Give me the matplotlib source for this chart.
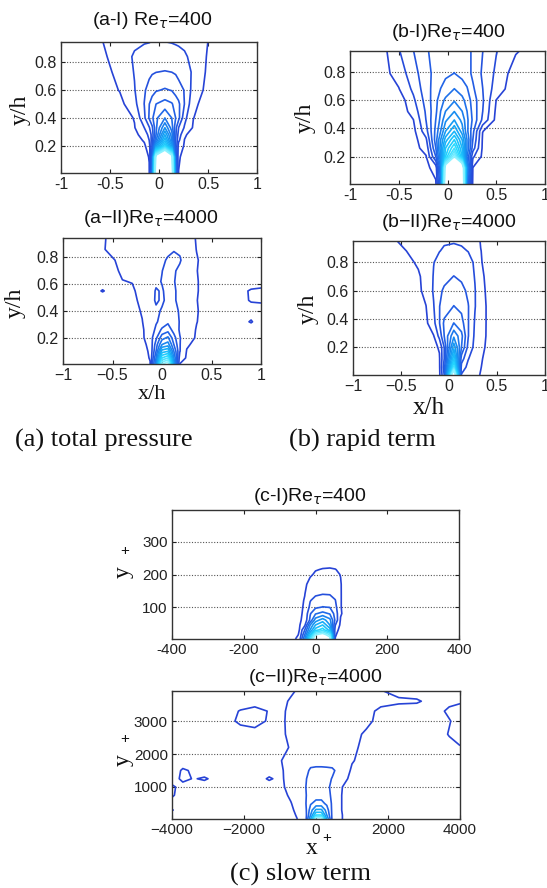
import numpy as np
import matplotlib
matplotlib.use('Agg')
import matplotlib.pyplot as plt
from matplotlib.colors import LinearSegmentedColormap

plt.rcParams['font.family'] = ['Liberation Sans', 'DejaVu Sans']
plt.rcParams['mathtext.fontset'] = 'dejavusans'
SERIF = ['Liberation Serif', 'DejaVu Serif']

# ------------------------------------------------------------------ data
# (a-I) total pressure, Re_tau = 400 : field on a (x/h, y/h) grid
a1_x = [-1.0, -0.6, -0.4, -0.25, -0.15, -0.1, -0.07, -0.03, 0.06, 0.13, 0.17, 0.2, 0.26, 0.35, 0.5, 0.7, 1.0]
a1_y = [0.005, 0.12, 0.2, 0.24, 0.28, 0.33, 0.4, 0.5, 0.6, 0.73, 0.84, 0.945]
a1_z = [
    [0.05, 0.1, 0.2, 0.3, 0.5, 0.9, 6, 24, 30, 24, 6, 0.98, 0.6, 0.4, 0.25, 0.15, 0.1],
    [0.05, 0.12, 0.25, 0.4, 0.65, 1.05, 5, 22, 28, 22, 5, 1.1, 0.75, 0.5, 0.3, 0.18, 0.1],
    [0.05, 0.15, 0.3, 0.5, 0.85, 1.5, 4, 10, 15, 10, 4, 1.6, 0.9, 0.6, 0.35, 0.2, 0.1],
    [0.05, 0.18, 0.35, 0.6, 1.1, 2, 3.5, 7, 12.7, 8, 4, 2.2, 0.98, 0.65, 0.38, 0.22, 0.1],
    [0.05, 0.2, 0.4, 0.75, 1.4, 2.3, 3.4, 6, 11, 7.5, 4.2, 2.6, 1.1, 0.7, 0.4, 0.24, 0.1],
    [0.05, 0.22, 0.45, 0.95, 2.0, 2.9, 3.8, 5.8, 9, 6.5, 4.3, 3.0, 1.9, 0.9, 0.45, 0.25, 0.1],
    [0.05, 0.25, 0.55, 1.05, 2.8, 4.1, 4.8, 5.8, 7, 6, 5, 4.3, 2.3, 1.02, 0.5, 0.28, 0.1],
    [0.05, 0.3, 0.7, 1.7, 3.02, 3.98, 4.5, 5.0, 5.4, 5.1, 4.6, 4.2, 2.98, 1.2, 0.6, 0.3, 0.1],
    [0.05, 0.4, 1.05, 1.95, 2.9, 3.3, 3.6, 3.9, 4.1, 3.95, 3.6, 3.4, 2.95, 1.6, 0.7, 0.35, 0.1],
    [0.05, 0.55, 1.3, 2.05, 2.6, 2.8, 2.9, 2.98, 3.05, 2.99, 2.9, 2.7, 2.3, 1.9, 0.8, 0.4, 0.1],
    [0.05, 0.7, 1.55, 2.1, 2.3, 2.35, 2.4, 2.4, 2.4, 2.35, 2.3, 2.25, 2.1, 1.8, 0.9, 0.45, 0.1],
    [0.05, 0.9, 1.6, 1.85, 1.95, 1.98, 2.02, 2.03, 2.01, 1.97, 1.93, 1.9, 1.85, 1.7, 0.99, 0.5, 0.1],
]
a1_levels = list(range(1, 21))

# (b-I) rapid term, Re_tau = 400
b1_x = [-1.0, -0.7, -0.5, -0.35, -0.22, -0.12, -0.07, -0.02, 0.07, 0.15, 0.2, 0.26, 0.36, 0.5, 0.7, 1.0]
b1_y = [0.005, 0.12, 0.2, 0.26, 0.32, 0.38, 0.46, 0.52, 0.6, 0.68, 0.79, 0.95]
b1_z = [
    [0.1, 0.2, 0.3, 0.4, 0.55, 0.85, 5, 22, 30, 24, 6, 0.8, 0.55, 0.4, 0.2, 0.1],
    [0.1, 0.25, 0.4, 0.55, 0.75, 1.4, 6, 20, 26, 22, 8, 0.98, 0.65, 0.45, 0.25, 0.1],
    [0.1, 0.3, 0.45, 0.65, 0.95, 4, 8, 13, 18, 12, 6, 2.2, 0.8, 0.5, 0.3, 0.1],
    [0.1, 0.3, 0.5, 0.7, 1.3, 5, 8.5, 12, 15, 11, 7, 3.5, 0.85, 0.5, 0.3, 0.1],
    [0.1, 0.3, 0.5, 0.6, 1.8, 5.5, 8, 10.5, 13, 10, 7, 4.0, 0.9, 0.55, 0.3, 0.1],
    [0.1, 0.3, 0.5, 0.7, 2.6, 5.3, 7, 9, 11, 8.5, 6.3, 4.3, 1.02, 0.6, 0.3, 0.1],
    [0.1, 0.25, 0.45, 0.98, 3.02, 5.02, 6.3, 7.8, 9, 7.7, 6.25, 4.8, 2.8, 0.7, 0.3, 0.1],
    [0.1, 0.25, 0.4, 1.38, 3.14, 4.8, 6.02, 7.02, 8.0, 7.02, 6.02, 4.67, 3.02, 0.8, 0.3, 0.1],
    [0.1, 0.3, 0.4, 1.8, 3.38, 4.71, 5.6, 6.2, 6.9, 6.3, 5.6, 4.57, 3.14, 0.98, 0.3, 0.1],
    [0.1, 0.3, 0.95, 2.22, 3.55, 4.5, 5.02, 5.4, 6.02, 5.5, 5.1, 4.17, 3.02, 1.5, 0.4, 0.1],
    [0.1, 0.47, 1.43, 2.58, 3.67, 4.3, 4.55, 4.8, 5.02, 4.7, 4.4, 3.8, 2.85, 1.8, 0.47, 0.1],
    [0.1, 0.4, 1.92, 2.98, 3.93, 4.2, 4.3, 4.4, 4.5, 4.35, 4.2, 3.9, 3.02, 2.05, 1.1, 0.3],
]
b1_levels = list(range(1, 19))

# (a-II) total pressure, Re_tau = 4000
a2_x = [-1.0, -0.8, -0.6, -0.5, -0.4, -0.3, -0.2, -0.12, -0.06, 0.0, 0.06, 0.12, 0.18, 0.25, 0.35, 0.5, 0.75, 0.9, 1.0]
a2_y = [0.005, 0.05, 0.1, 0.15, 0.2, 0.26, 0.32, 0.4, 0.48, 0.55, 0.62, 0.7, 0.78, 0.86, 0.95]
a2_z = [
    [0.3, 0.32, 0.34, 0.36, 0.42, 0.5, 0.65, 0.95, 6, 14, 15, 7, 0.98, 0.85, 0.65, 0.45, 0.35, 0.35, 0.35],
    [0.3, 0.33, 0.35, 0.38, 0.45, 0.55, 0.7, 1.05, 5, 11, 12, 6, 1.5, 0.9, 0.7, 0.45, 0.35, 0.35, 0.35],
    [0.3, 0.33, 0.36, 0.4, 0.48, 0.58, 0.75, 1.1, 4, 8.5, 9, 5, 2.05, 0.95, 0.75, 0.5, 0.35, 0.35, 0.35],
    [0.3, 0.35, 0.38, 0.42, 0.5, 0.6, 0.8, 1.2, 3.5, 6.0, 6.5, 4.0, 2.05, 1.1, 0.8, 0.5, 0.35, 0.35, 0.35],
    [0.3, 0.35, 0.4, 0.45, 0.55, 0.65, 0.85, 1.5, 2.8, 4.6, 5.2, 3.4, 2.05, 1.4, 0.9, 0.5, 0.35, 0.35, 0.35],
    [0.3, 0.35, 0.4, 0.5, 0.6, 0.72, 0.9, 1.4, 2.2, 3.2, 3.6, 2.6, 1.9, 1.4, 0.95, 0.55, 0.35, 0.35, 0.35],
    [0.3, 0.35, 0.45, 0.55, 0.65, 0.78, 0.98, 1.4, 1.9, 2.3, 2.8, 2.4, 1.95, 1.45, 1.02, 0.6, 0.4, 1.1, 0.4],
    [0.3, 0.4, 0.5, 0.6, 0.7, 0.8, 1.05, 1.45, 1.8, 2.1, 2.5, 2.3, 1.9, 1.4, 1.05, 0.6, 0.45, 0.5, 0.4],
    [0.3, 0.4, 0.55, 0.65, 0.75, 0.85, 1.15, 1.5, 2.15, 1.85, 2.25, 2.15, 1.7, 1.3, 1.02, 0.6, 0.5, 1.1, 1.2],
    [0.35, 0.45, 1.05, 0.75, 0.85, 0.92, 1.2, 1.5, 2.1, 1.9, 2.3, 2.2, 1.6, 1.3, 1.05, 0.6, 0.45, 1.15, 1.3],
    [0.3, 0.45, 0.65, 0.8, 0.98, 1.02, 1.3, 1.55, 1.8, 2.05, 2.3, 2.05, 1.7, 1.35, 1.05, 0.6, 0.4, 0.35, 0.35],
    [0.3, 0.45, 0.7, 0.85, 1.1, 1.3, 1.45, 1.6, 1.8, 1.98, 2.3, 2.1, 1.8, 1.4, 1.02, 0.6, 0.4, 0.3, 0.3],
    [0.3, 0.45, 0.75, 0.95, 1.15, 1.3, 1.45, 1.6, 1.8, 1.92, 2.05, 2.2, 2.1, 1.5, 1.05, 0.6, 0.4, 0.3, 0.3],
    [0.3, 0.5, 0.95, 1.15, 1.25, 1.35, 1.45, 1.55, 1.7, 1.8, 1.9, 1.95, 1.85, 1.4, 0.98, 0.6, 0.4, 0.3, 0.3],
    [0.3, 0.5, 0.9, 1.2, 1.3, 1.4, 1.5, 1.6, 1.6, 1.65, 1.6, 1.55, 1.5, 1.3, 0.95, 0.6, 0.4, 0.3, 0.3],
]
a2_levels = list(range(1, 15))

# (b-II) rapid term, Re_tau = 4000
b2_x = [-1.0, -0.6, -0.45, -0.32, -0.24, -0.16, -0.1, -0.05, 0.05, 0.13, 0.2, 0.27, 0.33, 0.4, 0.6, 1.0]
b2_y = [0.005, 0.06, 0.12, 0.2, 0.28, 0.37, 0.49, 0.6, 0.7, 0.8, 0.88, 0.95]
b2_z = [
    [0.2, 0.2, 0.25, 0.3, 0.4, 0.55, 0.8, 3, 20, 1.9, 1.4, 1.15, 0.97, 0.8, 0.4, 0.2],
    [0.2, 0.22, 0.28, 0.35, 0.45, 0.6, 0.85, 3.5, 13.5, 2.6, 1.7, 1.3, 1.02, 0.8, 0.4, 0.2],
    [0.2, 0.25, 0.3, 0.4, 0.5, 0.65, 0.9, 3.0, 11, 3.5, 2.05, 1.45, 1.08, 0.8, 0.4, 0.2],
    [0.2, 0.25, 0.35, 0.45, 0.55, 0.75, 1.1, 3.0, 8.7, 5.0, 2.7, 1.7, 1.25, 0.85, 0.4, 0.2],
    [0.2, 0.3, 0.4, 0.5, 0.65, 0.95, 2.3, 4.0, 6.8, 5.3, 3.05, 1.8, 1.35, 0.9, 0.4, 0.2],
    [0.2, 0.3, 0.45, 0.6, 0.8, 1.7, 2.95, 4.2, 5.02, 4.4, 3.05, 1.9, 1.4, 0.9, 0.4, 0.2],
    [0.2, 0.35, 0.5, 0.7, 0.98, 1.95, 2.97, 3.5, 4.02, 3.7, 3.05, 2.05, 1.4, 0.9, 0.4, 0.2],
    [0.2, 0.4, 0.55, 0.8, 1.3, 2.1, 2.8, 3.15, 3.5, 3.3, 2.8, 2.05, 1.3, 0.85, 0.4, 0.2],
    [0.2, 0.4, 0.6, 0.85, 1.4, 2.05, 2.4, 2.7, 3.02, 2.8, 2.5, 1.95, 1.2, 0.8, 0.4, 0.2],
    [0.2, 0.45, 0.7, 1.15, 1.5, 1.98, 2.2, 2.35, 2.5, 2.4, 2.25, 1.9, 1.05, 0.8, 0.4, 0.2],
    [0.2, 0.6, 0.98, 1.4, 1.6, 1.8, 1.98, 2.08, 2.15, 2.1, 1.98, 1.5, 1.02, 0.75, 0.4, 0.2],
    [0.2, 0.8, 1.3, 1.6, 1.75, 1.85, 1.9, 1.93, 1.95, 1.9, 1.7, 1.4, 0.95, 0.7, 0.4, 0.2],
]
b2_levels = list(range(1, 17))

# (c-I) slow term, Re_tau = 400 : field on a (x+, y+) grid
c1_x = [-400, -200, -100, -60, -45, -30, -15, 0, 20, 40, 55, 70, 90, 150, 250, 400]
c1_y = [2, 15, 30, 45, 60, 80, 100, 120, 140, 170, 200, 215, 240, 300, 398]
c1_z = [
    [0.1, 0.2, 0.3, 0.8, 1.5, 5, 10, 14, 15, 13, 0.95, 0.6, 0.4, 0.3, 0.2, 0.1],
    [0.1, 0.2, 0.35, 0.6, 1.1, 4, 8, 12, 13, 11, 1.1, 0.6, 0.45, 0.3, 0.2, 0.1],
    [0.1, 0.2, 0.4, 0.65, 1.0, 3.0, 6, 8.5, 9.5, 7.5, 1.5, 0.6, 0.5, 0.3, 0.2, 0.1],
    [0.1, 0.25, 0.45, 0.65, 0.9, 1.8, 5, 7, 8, 6, 2.05, 0.8, 0.5, 0.3, 0.2, 0.1],
    [0.1, 0.25, 0.5, 0.7, 0.85, 1.3, 3.2, 5.5, 6.5, 5.3, 2.8, 0.9, 0.5, 0.3, 0.2, 0.1],
    [0.1, 0.25, 0.5, 0.75, 0.85, 1.15, 2.9, 3.9, 4.33, 3.9, 2.6, 1.1, 0.5, 0.3, 0.2, 0.1],
    [0.1, 0.25, 0.5, 0.7, 0.82, 1.1, 2.2, 2.8, 3.03, 2.95, 2.3, 1.05, 0.5, 0.3, 0.2, 0.1],
    [0.1, 0.25, 0.45, 0.65, 0.8, 1.05, 1.95, 2.35, 2.49, 2.4, 2.05, 1.05, 0.5, 0.3, 0.2, 0.1],
    [0.1, 0.25, 0.45, 0.65, 0.78, 0.98, 1.5, 1.85, 1.98, 1.95, 1.7, 1.05, 0.5, 0.3, 0.2, 0.1],
    [0.1, 0.2, 0.4, 0.6, 0.72, 0.88, 1.2, 1.4, 1.5, 1.45, 1.35, 1.05, 0.45, 0.3, 0.2, 0.1],
    [0.1, 0.2, 0.35, 0.5, 0.6, 0.72, 0.92, 1.08, 1.15, 1.15, 1.12, 0.98, 0.4, 0.25, 0.15, 0.1],
    [0.1, 0.2, 0.3, 0.45, 0.55, 0.65, 0.8, 0.97, 1.03, 1.05, 1.02, 0.9, 0.35, 0.25, 0.15, 0.1],
    [0.1, 0.15, 0.25, 0.35, 0.45, 0.55, 0.65, 0.75, 0.8, 0.8, 0.75, 0.65, 0.3, 0.2, 0.15, 0.1],
    [0.1, 0.1, 0.15, 0.2, 0.25, 0.3, 0.35, 0.4, 0.45, 0.45, 0.4, 0.35, 0.2, 0.15, 0.1, 0.1],
    [0.05, 0.05, 0.1, 0.1, 0.12, 0.15, 0.18, 0.2, 0.2, 0.2, 0.18, 0.15, 0.1, 0.1, 0.05, 0.05],
]
c1_levels = list(range(1, 13))

# (c-II) slow term, Re_tau = 4000
c2_x = [-4000, -3700, -3400, -3100, -2600, -2100, -1700, -1300, -1000, -700, -300, -150, 0,
        150, 300, 450, 700, 1000, 1400, 1800, 2300, 2800, 3300, 3700, 4000]
c2_y = [30, 150, 300, 500, 750, 1000, 1250, 1500, 1800, 2200, 2600, 3000, 3300, 3600, 3930]
c2_z = [
    [0.6, 0.6, 0.6, 0.6, 0.6, 0.6, 0.6, 0.6, 0.6, 0.75, 1.3, 5, 10, 10, 5, 1.8, 1.05, 0.6, 0.6, 0.6, 0.6, 0.6, 0.6, 0.6, 0.6],
    [0.6, 0.6, 0.6, 0.6, 0.6, 0.6, 0.6, 0.6, 0.6, 0.8, 1.4, 4, 7, 7, 4, 1.8, 1.05, 0.6, 0.6, 0.6, 0.6, 0.6, 0.6, 0.6, 0.6],
    [1.05, 0.6, 0.6, 0.6, 0.6, 0.6, 0.6, 0.6, 0.6, 0.85, 1.6, 3.5, 5.2, 5.2, 3.5, 1.8, 1.02, 0.6, 0.6, 0.6, 0.6, 0.6, 0.6, 0.6, 0.6],
    [0.7, 0.6, 0.6, 0.6, 0.6, 0.6, 0.6, 0.6, 0.6, 0.95, 1.85, 2.9, 3.3, 3.3, 2.8, 1.85, 1.02, 0.6, 0.6, 0.6, 0.6, 0.6, 0.6, 0.6, 0.6],
    [1.1, 0.65, 0.6, 0.6, 0.6, 0.6, 0.6, 0.6, 0.65, 1.15, 1.9, 2.4, 2.6, 2.6, 2.3, 1.85, 1.02, 0.6, 0.6, 0.6, 0.6, 0.6, 0.6, 0.6, 0.6],
    [1.15, 0.7, 0.6, 0.6, 0.6, 0.6, 0.6, 0.6, 0.75, 1.35, 1.95, 2.35, 2.4, 2.4, 2.2, 1.8, 1.05, 0.6, 0.6, 0.6, 0.6, 0.6, 0.6, 0.6, 0.6],
    [0.6, 1.2, 0.95, 1.1, 0.6, 0.6, 0.6, 1.1, 0.8, 1.4, 1.9, 2.3, 2.4, 2.4, 2.3, 1.95, 1.6, 0.6, 0.6, 0.6, 0.6, 0.6, 0.6, 0.6, 0.6],
    [0.6, 1.1, 0.9, 0.6, 0.6, 0.6, 0.6, 0.65, 0.85, 1.35, 1.6, 2.2, 2.3, 2.3, 2.25, 2.2, 1.5, 0.9, 0.65, 0.6, 0.6, 0.6, 0.6, 0.6, 0.6],
    [0.6, 0.6, 0.6, 0.6, 0.6, 0.6, 0.6, 0.65, 0.95, 1.3, 1.45, 1.5, 1.5, 1.5, 1.5, 1.45, 1.35, 1.05, 0.75, 0.6, 0.6, 0.6, 0.6, 0.6, 0.6],
    [0.6, 0.6, 0.6, 0.6, 0.6, 0.6, 0.65, 0.7, 0.8, 1.05, 1.4, 1.4, 1.4, 1.4, 1.35, 1.3, 1.3, 1.15, 0.8, 0.6, 0.6, 0.6, 0.6, 0.75, 0.95],
    [0.6, 0.6, 0.6, 0.6, 0.6, 0.65, 0.7, 0.7, 0.8, 1.2, 1.4, 1.4, 1.4, 1.4, 1.4, 1.35, 1.3, 1.2, 0.9, 0.65, 0.6, 0.6, 0.6, 1.05, 1.3],
    [0.6, 0.6, 0.6, 0.6, 0.65, 1.15, 1.3, 0.9, 0.75, 1.3, 1.4, 1.4, 1.4, 1.4, 1.4, 1.35, 1.3, 1.25, 1.15, 0.8, 0.6, 0.6, 0.6, 0.95, 1.3],
    [0.6, 0.6, 0.6, 0.6, 0.6, 1.05, 1.3, 0.95, 0.7, 1.3, 1.4, 1.4, 1.4, 1.4, 1.4, 1.35, 1.3, 1.3, 1.2, 0.85, 0.6, 0.6, 0.7, 1.15, 1.3],
    [0.6, 0.6, 0.6, 0.6, 0.6, 0.6, 0.6, 0.6, 0.75, 1.1, 1.4, 1.4, 1.4, 1.4, 1.35, 1.3, 1.3, 1.3, 1.25, 1.2, 1.15, 1.1, 0.7, 0.8, 0.9],
    [0.6, 0.6, 0.6, 0.6, 0.6, 0.6, 0.6, 0.6, 0.7, 0.85, 1.3, 1.35, 1.4, 1.35, 1.3, 1.25, 1.3, 1.25, 1.2, 1.02, 0.7, 0.6, 0.6, 0.6, 0.6],
]
c2_levels = list(range(1, 10))

# tick labels
ab_xticks = [-1, -0.5, 0, 0.5, 1]
ab_yticks = [0.2, 0.4, 0.6, 0.8]
c1_xticks = [-400, -200, 0, 200, 400]
c1_yticks = [100, 200, 300]
c2_xticks = [-4000, -2000, 0, 2000, 4000]
c2_yticks = [1000, 2000, 3000]

# ------------------------------------------------------------------ figure
W, H = 547, 888
fig = plt.figure(figsize=(W / 100, H / 100), dpi=100)
cmap = LinearSegmentedColormap.from_list('bc', ['#2743d6', '#2166e8', '#14a2f5', '#24d8ff', '#8cf2ff'])


def add_axes(l, t, r, b):
    return fig.add_axes([l / W, 1 - b / H, (r - l) / W, (b - t) / H])


def ftext(x, y, s, **kw):
    fig.text(x / W, 1 - y / H, s, **kw)


def panel(ax, xs, ys, zs, levels, xlim, ylim, xticks, xlabels, yticks, ylabels, fs):
    ax.contour(np.array(xs), np.array(ys), np.array(zs), levels=levels, cmap=cmap,
               vmin=levels[0], vmax=levels[-1], linewidths=1.2)
    ax.set_xlim(xlim)
    ax.set_ylim(ylim)
    ax.set_xticks(xticks)
    ax.set_xticklabels(xlabels, fontsize=fs)
    ax.set_yticks(yticks)
    ax.set_yticklabels(ylabels, fontsize=fs)
    ax.tick_params(direction='in', length=3, width=0.8, top=True, right=True, pad=3,
                   colors='#222222', labelcolor='#222222')
    for s in ax.spines.values():
        s.set_color('#333333')
        s.set_linewidth(1.0)
    ax.grid(axis='y', color='#555555', linestyle=(0, (1, 1.5)), linewidth=0.8)
    ax.set_axisbelow(True)


ab_xl1 = ['-1', '-0.5', '0', '0.5', '1']
ab_xl2 = ['\u22121', '\u22120.5', '0', '0.5', '1']
ab_yl = ['0.2', '0.4', '0.6', '0.8']

FS = 11.5
ax = add_axes(61, 42, 257, 173)
panel(ax, a1_x, a1_y, a1_z, a1_levels, (-1, 1), (0.005, 0.945), ab_xticks, ab_xl1, ab_yticks, ab_yl, FS)
ax = add_axes(350, 51, 545, 184)
panel(ax, b1_x, b1_y, b1_z, b1_levels, (-1, 1), (0.005, 0.95), ab_xticks, ab_xl1, ab_yticks, ab_yl, FS)
ax = add_axes(63, 238, 261, 364)
panel(ax, a2_x, a2_y, a2_z, a2_levels, (-1, 1), (0.005, 0.945), ab_xticks, ab_xl2, ab_yticks, ab_yl, FS)
ax = add_axes(353, 241, 545, 375)
panel(ax, b2_x, b2_y, b2_z, b2_levels, (-1, 1), (0.005, 0.95), ab_xticks, ab_xl2, ab_yticks, ab_yl, FS)
ax = add_axes(172, 510, 459, 639)
panel(ax, c1_x, c1_y, c1_z, c1_levels, (-400, 400), (2, 398), c1_xticks,
      ['-400', '-200', '0', '200', '400'], c1_yticks, ['100', '200', '300'], 11)
ax = add_axes(172, 691, 460, 819)
panel(ax, c2_x, c2_y, c2_z, c2_levels, (-4000, 4000), (30, 3910), c2_xticks,
      ['\u22124000', '\u22122000', '0', '2000', '4000'], c2_yticks, ['1000', '2000', '3000'], 11)

# titles
tkw = dict(ha='center', va='baseline', fontsize=14, color='#111111')
ftext(152, 25, '(a-I) Re$_{\\tau}$=400', **tkw)
ftext(448, 37, '(b-I)Re$_{\\tau}$=400', **tkw)
ftext(151, 223, '(a\u2212II)Re$_{\\tau}$=4000', **tkw)
ftext(449, 227, '(b\u2212II)Re$_{\\tau}$=4000', **tkw)
ftext(310, 501, '(c-I)Re$_{\\tau}$=400', **tkw)
ftext(315, 682, '(c\u2212II)Re$_{\\tau}$=4000', **tkw)

# axis labels
lkw = dict(ha='center', va='center', family=SERIF, color='#111111')
ftext(20, 110, 'y/h', rotation=90, fontsize=17, **lkw)
ftext(15, 303, 'y/h', rotation=90, fontsize=17, **lkw)
ftext(305, 118, 'y/h', rotation=90, fontsize=17, **lkw)
ftext(308, 309, 'y/h', rotation=90, fontsize=17, **lkw)
ftext(152, 394, 'x/h', fontsize=16, **lkw)
ftext(429, 408, 'x/h', fontsize=18, **lkw)
ftext(123, 572, 'y', rotation=90, fontsize=17, **lkw)
ftext(125, 551, '+', fontsize=11, ha='center', va='center', color='#111111')
ftext(123, 760, 'y', rotation=90, fontsize=17, **lkw)
ftext(125, 739, '+', fontsize=11, ha='center', va='center', color='#111111')
ftext(312, 848, 'x', fontsize=17, **lkw)
ftext(327, 838, '+', fontsize=11, ha='center', va='center', color='#111111')

# captions
ckw = dict(ha='center', va='center', family=SERIF, fontsize=19, color='#111111')
ftext(104, 440, '(a) total pressure', **ckw)
ftext(362, 440, '(b) rapid term', **ckw)
ftext(300, 874, '(c) slow term', **ckw)

fig.savefig('out.png', dpi=100)
